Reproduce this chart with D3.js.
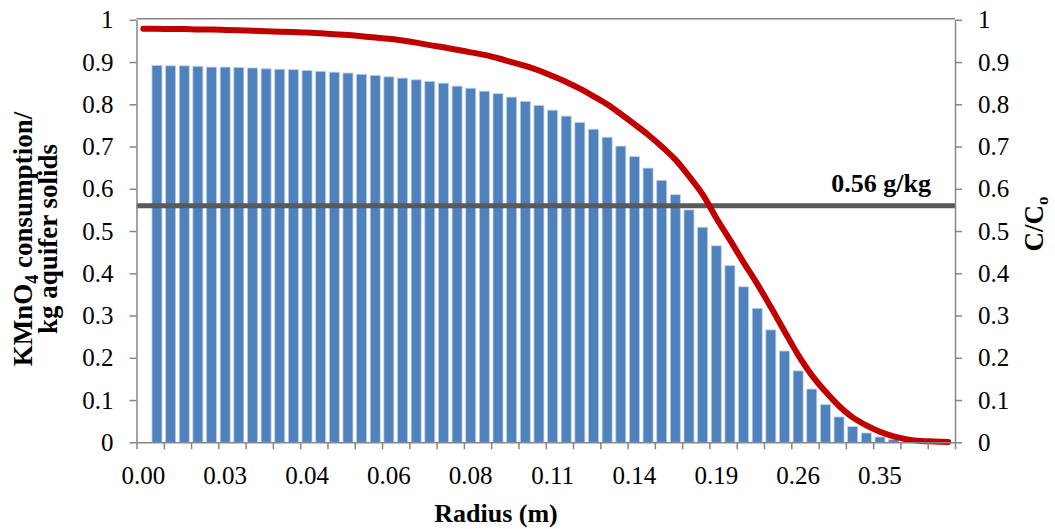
<!DOCTYPE html>
<html>
<head>
<meta charset="utf-8">
<script src="https://cdn.jsdelivr.net/npm/d3@7"></script>
<style>
  body { margin: 0; background: #fff; }
  svg { display: block; }
  text { font-family: "Liberation Serif", "Times New Roman", serif; fill: #000; }
</style>
</head>
<body>
<svg id="chart" width="1055" height="529"></svg>
<script>
// KMnO4 consumption per kg of aquifer solids, one value per radial cell (g/kg)
const consumption = [
  0, 0.892, 0.891, 0.891, 0.890, 0.888, 0.888, 0.887, 0.886, 0.884,
  0.883, 0.882, 0.880, 0.878, 0.876, 0.874, 0.871, 0.868, 0.865, 0.862,
  0.858, 0.854, 0.850, 0.843, 0.838, 0.831, 0.825, 0.817, 0.807, 0.797,
  0.786, 0.772, 0.757, 0.741, 0.722, 0.701, 0.676, 0.649, 0.620, 0.586,
  0.550, 0.509, 0.465, 0.418, 0.368, 0.317, 0.266, 0.216, 0.169, 0.126,
  0.089, 0.060, 0.037, 0.022, 0.0125, 0.0066, 0.003, 0.001, 0, 0
];

// Relative permanganate concentration C/Co in the same cells
const concentration = [
  0.979, 0.979, 0.978, 0.978, 0.977, 0.977, 0.976, 0.975, 0.974, 0.973,
  0.972, 0.971, 0.970, 0.968, 0.966, 0.964, 0.961, 0.958, 0.955, 0.951,
  0.946, 0.940, 0.935, 0.929, 0.923, 0.917, 0.909, 0.900, 0.891, 0.880,
  0.867, 0.853, 0.837, 0.819, 0.800, 0.777, 0.753, 0.728, 0.700, 0.669,
  0.630, 0.587, 0.531, 0.479, 0.426, 0.375, 0.320, 0.263, 0.207, 0.159,
  0.120, 0.086, 0.059, 0.040, 0.025, 0.014, 0.007, 0.003, 0.002, 0.001
];

// Radius labels shown on every sixth cell
const radiusLabels = ["0.00", "0.03", "0.04", "0.06", "0.08", "0.11", "0.14", "0.19", "0.26", "0.35"];
const labelStep = 6;
const tickStep = 2;

// Oxidant demand threshold
const threshold = 0.56;
const thresholdLabel = "0.56 g/kg";

const svg = d3.select("#chart");
const plot = { left: 136.5, right: 955, top: 19.8, bottom: 442.3 };
const axisColor = "#868686";

const cells = d3.range(consumption.length);
const x = d3.scaleBand().domain(cells).range([plot.left, plot.right]).padding(0);
const xEdge = d3.scaleLinear().domain([0, cells.length]).range([plot.left, plot.right]);
const y = d3.scaleLinear().domain([0, 1]).range([plot.bottom, plot.top]);
const y2 = d3.scaleLinear().domain([0, 1]).range([plot.bottom, plot.top]);
const fmt = d => String(+d.toFixed(1));

// plot area top border
svg.append("line")
  .attr("x1", plot.left).attr("x2", plot.right)
  .attr("y1", y(1) - 1).attr("y2", y(1) - 1)
  .attr("stroke", axisColor).attr("stroke-width", 1.5);

// bars
const barW = x.bandwidth() * 0.73;
svg.append("g").selectAll("rect")
  .data(cells.filter(i => consumption[i] > 0))
  .join("rect")
  .attr("x", i => x(i) + (x.bandwidth() - barW) / 2)
  .attr("width", barW)
  .attr("y", i => y(consumption[i]))
  .attr("height", i => y(0) - y(consumption[i]))
  .attr("fill", "#4F81BD")
  .attr("stroke", "#B9CDE5")
  .attr("stroke-width", 0.8);

// threshold line
svg.append("line")
  .attr("x1", plot.left).attr("x2", plot.right)
  .attr("y1", y(threshold)).attr("y2", y(threshold))
  .attr("stroke", "#595959").attr("stroke-width", 5);

svg.append("text")
  .attr("x", 931).attr("y", y(threshold) - 14)
  .attr("text-anchor", "end")
  .attr("font-weight", "bold")
  .attr("font-size", 26)
  .text(thresholdLabel);

// concentration curve
const line = d3.line()
  .x(i => x(i) + x.bandwidth() / 2)
  .y(i => y2(concentration[i]))
  .curve(d3.curveCatmullRom.alpha(0.5));
svg.append("path")
  .datum(cells)
  .attr("d", line)
  .attr("fill", "none")
  .attr("stroke", "#C00000")
  .attr("stroke-width", 6)
  .attr("stroke-linecap", "round")
  .attr("stroke-linejoin", "round");

function styleAxis(g) {
  g.select(".domain").attr("stroke", axisColor).attr("stroke-width", 1.5);
  g.selectAll(".tick line").attr("stroke", axisColor).attr("stroke-width", 1.5);
  g.selectAll(".tick text").attr("font-size", 25).attr("fill", "#000")
    .attr("font-family", "'Liberation Serif', 'Times New Roman', serif");
}

// left axis
svg.append("g")
  .attr("transform", `translate(${plot.left},0)`)
  .call(d3.axisLeft(y).ticks(10).tickFormat(fmt).tickSize(7).tickSizeOuter(0).tickPadding(16))
  .call(styleAxis);

// right axis
svg.append("g")
  .attr("transform", `translate(${plot.right},0)`)
  .call(d3.axisRight(y2).ticks(10).tickFormat(fmt).tickSize(7).tickSizeOuter(0).tickPadding(16))
  .call(styleAxis);

// bottom axis: tick marks between cells
svg.append("g")
  .attr("transform", `translate(0,${plot.bottom})`)
  .call(d3.axisBottom(xEdge).tickValues(d3.range(0, cells.length + 1, tickStep))
    .tickFormat("").tickSize(7).tickSizeOuter(0))
  .call(styleAxis);

// bottom axis: radius labels
svg.append("g")
  .attr("transform", `translate(0,${plot.bottom})`)
  .call(d3.axisBottom(x).tickValues(cells.filter(i => i % labelStep === 0))
    .tickFormat(i => radiusLabels[i / labelStep]).tickSize(0))
  .call(styleAxis)
  .call(g => g.select(".domain").remove())
  .call(g => g.selectAll(".tick text").attr("y", 42).attr("dy", null));

// axis titles
svg.append("text")
  .attr("x", 496).attr("y", 522)
  .attr("text-anchor", "middle")
  .attr("font-weight", "bold").attr("font-size", 26)
  .text("Radius (m)");

const leftTitle = svg.append("text")
  .attr("transform", `translate(0,239) rotate(-90)`)
  .attr("text-anchor", "middle")
  .attr("font-weight", "bold").attr("font-size", 27);
const l1 = leftTitle.append("tspan").attr("x", 0).attr("y", 32);
l1.append("tspan").text("KMnO");
l1.append("tspan").attr("font-size", 18).attr("dy", 6).text("4");
l1.append("tspan").attr("dy", -6).text(" consumption/");
leftTitle.append("tspan").attr("x", 0).attr("y", 57).text("kg aquifer solids");

const rightTitle = svg.append("text")
  .attr("transform", `translate(1043,224) rotate(-90)`)
  .attr("text-anchor", "middle")
  .attr("font-weight", "bold").attr("font-size", 27);
rightTitle.append("tspan").text("C/C");
rightTitle.append("tspan").attr("font-size", 17).attr("dy", 5).text("o");
</script>
</body>
</html>
